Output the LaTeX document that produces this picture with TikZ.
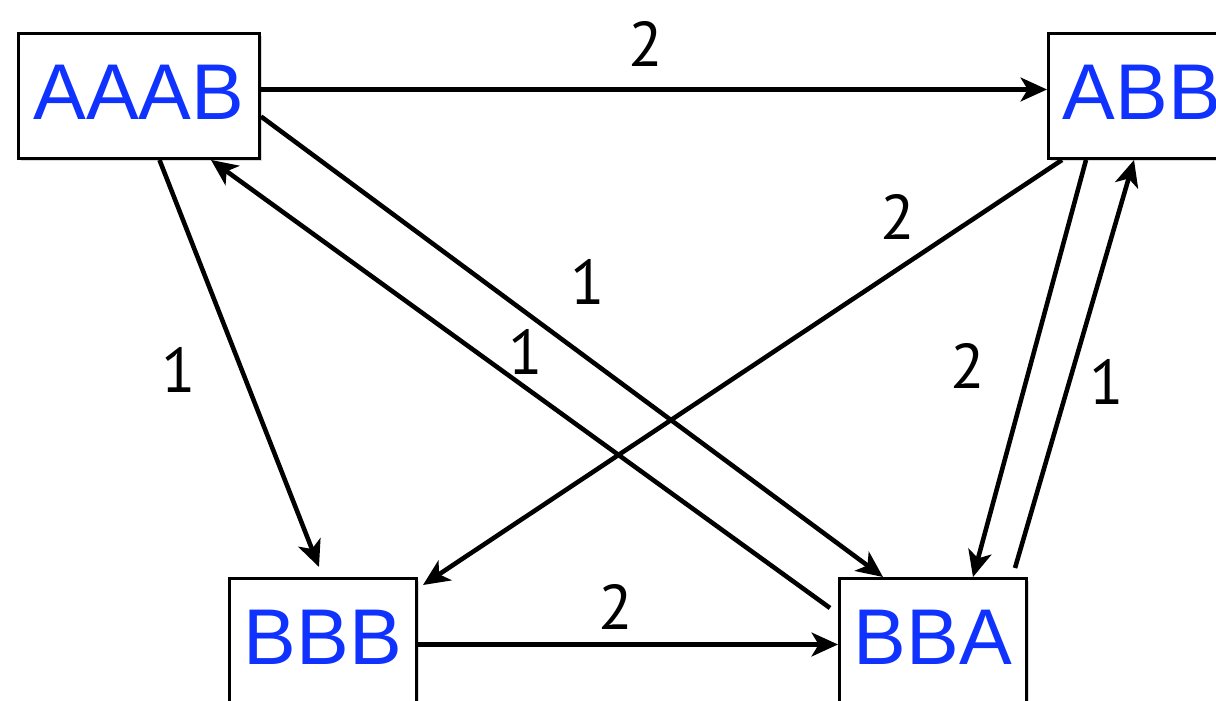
\documentclass[tikz,border=0pt]{standalone}
\usepackage{fontspec}
\setmainfont{Liberation Sans}
\newfontfamily\digitfont{PT Sans}
\usetikzlibrary{calc,arrows.meta,shadows}
\definecolor{stateBlue}{RGB}{16,50,255}

\begin{document}
\begin{tikzpicture}[x=0.02cm,y=0.02cm,
  state/.style={draw,line width=1.7pt,fill=white,anchor=north west,inner sep=0pt,
    minimum width=#1*0.02cm,text height=1.72cm,text depth=0.78cm,
    text=stateBlue,font=\fontsize{45}{45}\selectfont,
    drop shadow={shadow xshift=1.6pt,shadow yshift=-1.6pt,opacity=0.3}},
  lbl/.style={font=\digitfont\fontsize{36}{36}\selectfont,inner sep=0pt},
  arr/.style={-{Stealth[length=15pt,width=13.5pt,inset=4pt]},line width=2.6pt}]
  \useasboundingbox (0,0) rectangle (1216,-700);
  \clip (0,0) rectangle (1216,-700);
  % states
  \node[state=241] (aaab) at (17,-32) {AAAB};
  \node[state=187] (abb) at (1047,-32) {ABB};
  \node[state=187] (bbb) at (228,-577) {BBB};
  \node[state=187] (bba) at (838,-577) {BBA};
  % transitions
  \draw[arr] ($(aaab.east)+(0,6.5)$) -- node[lbl,pos=0.49,shift={(0,46)}] {2} ($(abb.west)+(0,6.5)$);
  \draw[arr] ($(aaab.east)+(0,-20.5)$) -- node[lbl,pos=0.525,shift={(0,76)}] {1} ($(bba.north)+(-50,0)$);
  \draw[arr] ($(bba.north west)+(-8,-31)$) -- node[lbl,pos=0.492,shift={(0,36)}] {1} ($(aaab.south)+(72,0)$);
  \draw[arr] ($(aaab.south)+(20.5,0)$) -- node[lbl,pos=0.515,shift={(-63,0)}] {1} ($(bbb.north)+(-4,10)$);
  \draw[arr] ($(abb.south west)+(15,0)$) -- node[lbl,pos=0.257,shift={(0,52)}] {2} ($(bbb.north east)+(5,-8)$);
  \draw[arr] ($(abb.south west)+(39,0)$) -- node[lbl,pos=0.495,shift={(-62,0)}] {2} ($(bba.north east)+(-55,0)$);
  \draw[arr] ($(bba.north east)+(-13,9)$) -- node[lbl,pos=0.456,shift={(37,0)}] {1} ($(abb.south west)+(87,0)$);
  \draw[arr] ($(bbb.east)+(0,-3.5)$) -- node[lbl,pos=0.47,shift={(0,38)}] {2} ($(bba.west)+(0,-3.5)$);
\end{tikzpicture}
\end{document}
